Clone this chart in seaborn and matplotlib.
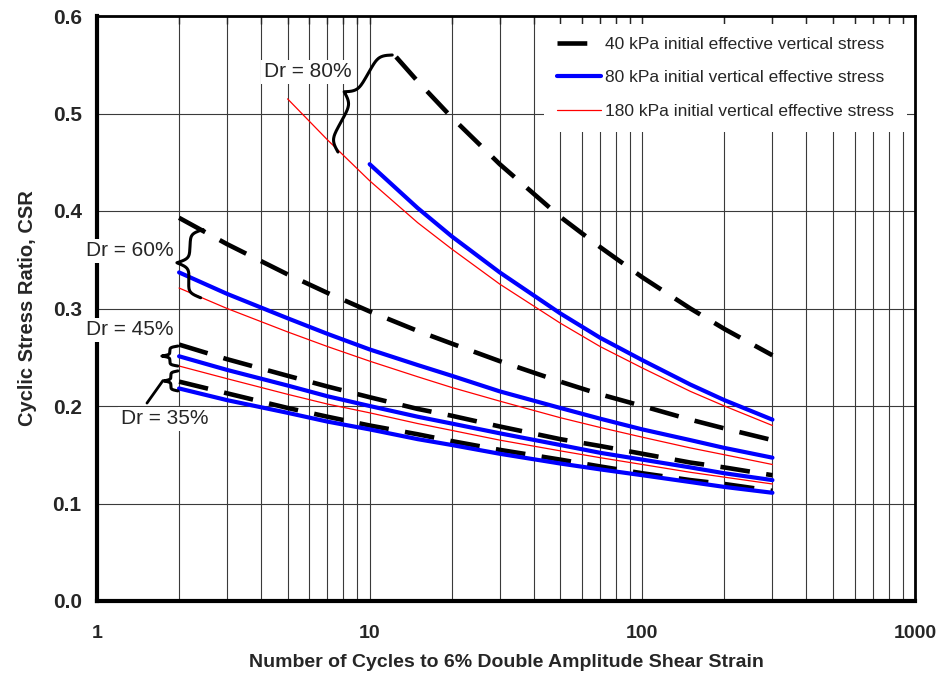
import numpy as np
import pandas as pd
import seaborn as sns
import matplotlib
matplotlib.use("Agg")
import matplotlib.pyplot as plt
import matplotlib.ticker as mticker
from matplotlib.lines import Line2D
from matplotlib.transforms import IdentityTransform

# %%
# values: number of cycles N and cyclic stress ratio
n_common = [2, 3, 5, 7, 10, 15, 20, 30, 50, 70, 100, 150, 200, 300]

# Dr = 80%
n_dr80_40 = [12.5, 15, 20, 30, 50, 70, 100, 150, 200, 300]
csr_dr80_40 = [0.558, 0.533, 0.496, 0.448, 0.394, 0.363, 0.332, 0.300, 0.279, 0.252]
n_dr80_80 = [10, 15, 20, 30, 50, 70, 100, 150, 200, 300]
csr_dr80_80 = [0.448, 0.403, 0.374, 0.337, 0.295, 0.270, 0.247, 0.222, 0.206, 0.186]
n_dr80_180 = [5, 7, 10, 15, 20, 30, 50, 70, 100, 150, 200, 300]
csr_dr80_180 = [0.515, 0.473, 0.431, 0.388, 0.361, 0.325, 0.285, 0.261, 0.239, 0.215, 0.200, 0.180]

# Dr = 60%
csr_dr60_40 = [0.393, 0.366, 0.335, 0.316, 0.297, 0.277, 0.264, 0.246, 0.225, 0.212, 0.200, 0.186, 0.177, 0.165]
csr_dr60_80 = [0.337, 0.315, 0.290, 0.274, 0.258, 0.242, 0.231, 0.215, 0.198, 0.187, 0.176, 0.165, 0.157, 0.147]
csr_dr60_180 = [0.321, 0.300, 0.276, 0.261, 0.246, 0.230, 0.219, 0.205, 0.188, 0.178, 0.168, 0.157, 0.150, 0.140]

# Dr = 45%
csr_dr45_40 = [0.263, 0.248, 0.231, 0.220, 0.209, 0.197, 0.190, 0.179, 0.166, 0.159, 0.151, 0.142, 0.137, 0.129]
csr_dr45_80 = [0.251, 0.237, 0.221, 0.210, 0.200, 0.189, 0.182, 0.172, 0.160, 0.152, 0.145, 0.137, 0.131, 0.124]
csr_dr45_180 = [0.241, 0.228, 0.212, 0.202, 0.193, 0.182, 0.175, 0.165, 0.154, 0.147, 0.140, 0.132, 0.127, 0.120]

# Dr = 35%
csr_dr35_40 = [0.225, 0.213, 0.198, 0.189, 0.180, 0.171, 0.164, 0.155, 0.145, 0.138, 0.131, 0.124, 0.120, 0.113]
csr_dr35_80 = [0.218, 0.206, 0.193, 0.184, 0.176, 0.166, 0.160, 0.151, 0.141, 0.135, 0.129, 0.122, 0.117, 0.111]

stress_levels = ["40 kPa", "80 kPa", "180 kPa"]
legend_labels = ["40 kPa initial effective vertical stress",
                 "80 kPa initial vertical effective stress",
                 "180 kPa initial vertical effective stress"]
y_ticks = [0.0, 0.1, 0.2, 0.3, 0.4, 0.5, 0.6]
x_ticks = [1, 10, 100, 1000]

rows = []
def add_series(dr, stress, n, csr):
    for a, b in zip(n, csr):
        rows.append({"Dr": dr, "stress": stress, "N": a, "CSR": b})

add_series("80", "40 kPa", n_dr80_40, csr_dr80_40)
add_series("80", "80 kPa", n_dr80_80, csr_dr80_80)
add_series("80", "180 kPa", n_dr80_180, csr_dr80_180)
add_series("60", "40 kPa", n_common, csr_dr60_40)
add_series("60", "80 kPa", n_common, csr_dr60_80)
add_series("60", "180 kPa", n_common, csr_dr60_180)
add_series("45", "40 kPa", n_common, csr_dr45_40)
add_series("45", "80 kPa", n_common, csr_dr45_80)
add_series("45", "180 kPa", n_common, csr_dr45_180)
add_series("35", "40 kPa", n_common, csr_dr35_40)
add_series("35", "80 kPa", n_common, csr_dr35_80)
df = pd.DataFrame(rows)

# %%
sns.set_style("white")
plt.rcParams["font.family"] = ["Liberation Sans", "DejaVu Sans"]

palette = {"40 kPa": "black", "80 kPa": "#0000ff", "180 kPa": "#ff0000"}
sizes = {"40 kPa": 3.3, "80 kPa": 3.0, "180 kPa": 0.9}
dashes = {"40 kPa": (6.5, 3.6), "80 kPa": "", "180 kPa": ""}

fig = plt.figure(figsize=(9.42, 6.8), dpi=100)
ax = fig.add_axes([97 / 942, 1 - 601 / 680, (915 - 97) / 942, (601 - 16) / 680])

sns.lineplot(data=df, x="N", y="CSR", hue="stress", size="stress", style="stress",
             units="Dr", estimator=None, sort=False, palette=palette, sizes=sizes,
             dashes=dashes, hue_order=stress_levels, legend=False, ax=ax, zorder=3)

ax.set_xscale("log")
ax.set_xlim(1, 1000)
ax.set_ylim(0, 0.6)
ax.set_autoscale_on(False)
ax.set_xticks(x_ticks)
ax.set_yticks(y_ticks)
ax.xaxis.set_major_formatter(mticker.FuncFormatter(lambda v, _: f"{v:g}"))
ax.xaxis.set_minor_formatter(mticker.NullFormatter())
ax.yaxis.set_major_formatter(mticker.FormatStrFormatter("%.1f"))

ax.grid(which="both", axis="x", color="#3a3a3a", lw=0.8)
ax.grid(which="major", axis="y", color="#3a3a3a", lw=0.8)
ax.set_axisbelow(True)

ax.tick_params(axis="y", direction="in", length=6, width=2, pad=11, labelsize=15)
ax.tick_params(axis="x", which="both", direction="in", top=True, length=6, width=1, pad=17, labelsize=14)
for lab in ax.get_xticklabels() + ax.get_yticklabels():
    lab.set_fontweight("bold")
for side in ["left", "bottom"]:
    ax.spines[side].set_linewidth(3.0)
for side in ["top", "right"]:
    ax.spines[side].set_linewidth(2.0)
for sp in ax.spines.values():
    sp.set_color("black")

ax.set_xlabel("Number of Cycles to 6% Double Amplitude Shear Strain",
              fontsize=14, fontweight="bold", labelpad=9)
ax.set_ylabel("Cyclic Stress Ratio, CSR", fontsize=14.5, fontweight="bold", labelpad=11)

# legend
handles = [Line2D([], [], color=palette[s], lw=sizes[s]) for s in stress_levels]
handles[0].set_dashes(dashes["40 kPa"])
leg = ax.legend(handles, legend_labels, loc="upper right", fontsize=12.5,
                frameon=True, fancybox=False, framealpha=1, edgecolor="none",
                handlelength=2.5, handletextpad=0.25, labelspacing=1.05,
                borderpad=0.75, borderaxespad=0.45)
leg.set_zorder(6)


# curly braces grouping the lines of each relative density
def draw_brace(ax, p1, p2, width, lw=2.2):
    (x1, y1), (x2, y2) = ax.transData.transform([p1, p2])
    dx, dy = x2 - x1, y2 - y1
    length = np.hypot(dx, dy)
    ux, uy = dx / length, dy / length
    nx, ny = uy, -ux
    beta = 30.0 / length
    half = length / 2
    s = np.linspace(0, half, 80)
    v = 1 / (1 + np.exp(-beta * s)) + 1 / (1 + np.exp(-beta * (s - half)))
    s_full = np.concatenate([s, length - s[::-1]])
    v_full = np.concatenate([v, v[::-1]])
    v_full = (v_full - v_full.min()) / (v_full.max() - v_full.min()) * width
    xs = x1 + ux * s_full + nx * v_full
    ys = y1 + uy * s_full + ny * v_full
    ax.add_line(Line2D(xs, ys, transform=IdentityTransform(), color="black", lw=lw,
                       clip_on=False, solid_capstyle="round", zorder=8))


draw_brace(ax, (12.1, 0.560), (7.65, 0.4605), 24)
draw_brace(ax, (2.45, 0.381), (2.4, 0.311), 25)
draw_brace(ax, (1.98, 0.2615), (1.98, 0.241), 16)
draw_brace(ax, (1.98, 0.236), (1.98, 0.2155), 14)
ax.plot([1.745, 1.525], [0.226, 0.203], color="black", lw=2.0, clip_on=False, zorder=8)

box = dict(facecolor="white", edgecolor="none", pad=2)
for x, y, txt in [(5.94, 0.5426, "Dr = 80%"), (1.316, 0.359, "Dr = 60%"),
                  (1.316, 0.278, "Dr = 45%"), (1.768, 0.1867, "Dr = 35%")]:
    ax.text(x, y, txt, ha="center", va="center", fontsize=15, bbox=box,
            zorder=7, clip_on=False)

fig.savefig("out.png", dpi=100)
